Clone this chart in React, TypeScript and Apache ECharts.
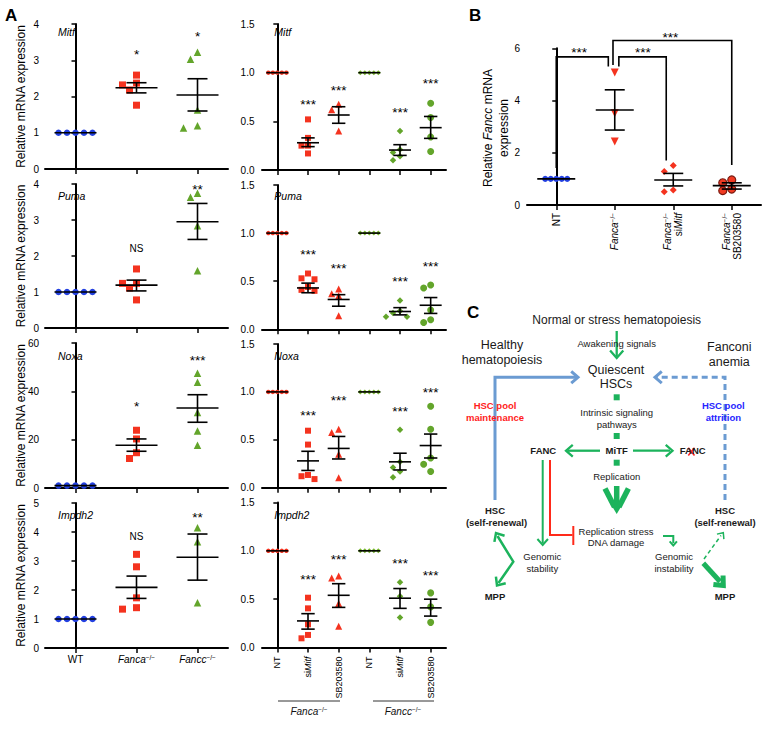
import React, { useEffect, useRef } from 'react';
import * as echarts from 'echarts';

const FONT = '"Liberation Sans", Arial, Helvetica, sans-serif';
const RED = '#f4331f';
const BLUE = '#2340e0';
const GREEN = '#63a52b';
const LGREEN = '#7ab82f';
const CG = '#1cb35c';
const CB = '#6b9bd2';

// ---------- Panel A, left column ----------
const leftCategories = ['WT', 'Fanca−/−', 'Fancc−/−'];

const mitfLeft = [[1, 1, 1, 1, 1], [2.59, 2.37, 2.32, 2.18, 1.76], [3.22, 3.03, 1.63, 1.19, 1.13]];
const mitfLeftMean = [1, 2.24, 2.04];
const mitfLeftSem = [[1, 1], [2.1, 2.38], [1.6, 2.49]];
const mitfLeftSig = ['', '*', '*'];
const mitfLeftSigY = [0, 3.23, 3.75];

const pumaLeft = [[1, 1, 1, 1, 1], [1.64, 1.24, 1.24, 1.11, 0.78], [3.74, 3.63, 2.84, 1.59]];
const pumaLeftMean = [1, 1.19, 2.95];
const pumaLeftSem = [[1, 1], [1.03, 1.33], [2.46, 3.46]];
const pumaLeftSig = ['', 'NS', '**'];
const pumaLeftSigY = [0, 2.22, 3.92];

const noxaLeft = [[1, 1, 1, 1, 1], [23.9, 20.3, 14.6, 12.2], [47.5, 43.8, 31.2, 23.6, 17.7]];
const noxaLeftMean = [1, 17.7, 33.1];
const noxaLeftSem = [[1, 1], [15.2, 20.3], [27.2, 38.6]];
const noxaLeftSig = ['', '*', '***'];
const noxaLeftSigY = [0, 35.1, 54.0];

const impdh2Left = [[1, 1, 1, 1, 1], [3.23, 2.8, 1.73, 1.39, 1.34], [4.15, 3.66, 1.56]];
const impdh2LeftMean = [1, 2.09, 3.13];
const impdh2LeftSem = [[1, 1], [1.71, 2.48], [2.34, 3.93]];
const impdh2LeftSig = ['', 'NS', '**'];
const impdh2LeftSigY = [0, 3.83, 4.62];

// ---------- Panel A, right column ----------
const rightCategories = ['NT', 'siMitf', 'SB203580', 'NT', 'siMitf', 'SB203580'];

const mitfRight = [[1, 1, 1, 1, 1], [0.52, 0.33, 0.25, 0.25, 0.17], [0.675, 0.62, 0.4], [1, 1, 1, 1, 1], [0.4, 0.21, 0.18, 0.14, 0.1], [0.685, 0.54, 0.34, 0.19]];
const mitfRightMean = [1, 0.28, 0.565, 1, 0.205, 0.435];
const mitfRightSem = [[1, 1], [0.24, 0.33], [0.48, 0.65], [1, 1], [0.15, 0.26], [0.325, 0.55]];
const mitfRightSig = ['', '***', '***', '', '***', '***'];
const mitfRightSigY = [0, 0.7, 0.85, 0, 0.617, 0.915];

const pumaRight = [[1, 1, 1, 1, 1], [0.58, 0.53, 0.52, 0.44, 0.41, 0.4], [0.42, 0.37, 0.35, 0.14], [1, 1, 1, 1, 1], [0.3, 0.19, 0.17, 0.13, 0.13], [0.46, 0.43, 0.2, 0.1, 0.07]];
const pumaRightMean = [1, 0.43, 0.31, 1, 0.185, 0.25];
const pumaRightSem = [[1, 1], [0.38, 0.48], [0.24, 0.36], [1, 1], [0.15, 0.225], [0.165, 0.33]];
const pumaRightSig = ['', '***', '***', '', '***', '***'];
const pumaRightSigY = [0, 0.807, 0.668, 0, 0.53, 0.68];

const noxaRight = [[1, 1, 1, 1, 1], [0.595, 0.45, 0.133, 0.12, 0.09], [0.61, 0.577, 0.35, 0.105], [1, 1, 1, 1, 1], [0.605, 0.27, 0.21, 0.17, 0.11], [0.85, 0.61, 0.31, 0.245, 0.17]];
const noxaRightMean = [1, 0.28, 0.41, 1, 0.27, 0.44];
const noxaRightSem = [[1, 1], [0.18, 0.38], [0.3, 0.535], [1, 1], [0.185, 0.36], [0.31, 0.56]];
const noxaRightSig = ['', '***', '***', '', '***', '***'];
const noxaRightSigY = [0, 0.78, 0.944, 0, 0.823, 1.025];

const impdh2Right = [[1, 1, 1, 1, 1], [0.515, 0.405, 0.24, 0.13, 0.095], [0.74, 0.72, 0.455, 0.22], [1, 1, 1, 1, 1], [0.675, 0.53, 0.31], [0.565, 0.42, 0.26]];
const impdh2RightMean = [1, 0.275, 0.54, 1, 0.51, 0.41];
const impdh2RightSem = [[1, 1], [0.19, 0.35], [0.415, 0.66], [1, 1], [0.405, 0.61], [0.325, 0.5]];
const impdh2RightSig = ['', '***', '***', '', '***', '***'];
const impdh2RightSigY = [0, 0.732, 0.939, 0, 0.905, 0.773];

// ---------- Panel B ----------
const bCategories = ['NT', 'Fanca−/−', 'Fanca−/−|siMitf', 'Fanca−/−|SB203580'];
const bValues = [[1, 1, 1, 1, 1], [5.07, 3.51, 2.43], [1.51, 1.28, 0.57, 0.51], [0.96, 0.85, 0.61, 0.55]];
const bMean = [1, 3.64, 0.96, 0.74];
const bSem = [[1, 1], [2.87, 4.41], [0.73, 1.21], [0.61, 0.85]];
const bBracketX1 = [0, 1.07, 0.97];
const bBracketY1 = [1.42, 5.3, 5.36];
const bBracketX2 = [0.89, 1.88, 3];
const bBracketY2 = [5.3, 1.7, 1.53];
const bBracketTop = [5.67, 5.67, 6.3];
const bStarX = [0.39, 1.48, 1.95];
const bStarY = [5.94, 5.94, 6.54];
const bStars = ['***', '***', '***'];

type Sty = { symbol: string; size: number | number[]; color: string; border?: string; rotate?: number; step: number; d: number };

const leftStyles: Sty[] = [
  { symbol: 'circle', size: 6.5, color: BLUE, step: 8.5, d: 8 },
  { symbol: 'rect', size: 7, color: RED, step: 7, d: 7.5 },
  { symbol: 'triangle', size: 7.5, color: GREEN, step: 7, d: 7.5 },
];
const rightStyles: Sty[] = [
  { symbol: 'circle', size: 4.5, color: RED, step: 4.5, d: 4 },
  { symbol: 'rect', size: 6, color: RED, step: 6.5, d: 6.5 },
  { symbol: 'triangle', size: 7, color: RED, step: 7, d: 6.5 },
  { symbol: 'diamond', size: 5, color: LGREEN, step: 4.5, d: 4 },
  { symbol: 'diamond', size: 6.5, color: GREEN, step: 7, d: 6.5 },
  { symbol: 'circle', size: 7, color: GREEN, step: 7, d: 6.5 },
];
const bStyles: Sty[] = [
  { symbol: 'circle', size: 6, color: BLUE, step: 5.5, d: 5 },
  { symbol: 'triangle', size: 8, color: RED, rotate: 180, step: 8, d: 7.5 },
  { symbol: 'diamond', size: 7, color: RED, step: 9, d: 7 },
  { symbol: 'circle', size: 8, color: '#f03a22', border: '#7a1a10', step: 9, d: 7.5 },
];

function swarm(vals: number[], cat: number, pxX: number, pxY: number, step: number, d: number) {
  const placed: number[][] = [];
  return vals.map((v) => {
    const y = v * pxY;
    let chosen = 0;
    for (let k = 0; k < 30; k++) {
      const dx = k === 0 ? 0 : (k % 2 === 1 ? -1 : 1) * Math.ceil(k / 2) * step;
      if (placed.every(([px, py]) => Math.hypot(px - dx, py - y) >= d)) { chosen = dx; break; }
    }
    placed.push([chosen, y]);
    return [cat + chosen / pxX, v];
  });
}

const richSup = {
  i: { fontStyle: 'italic', fontFamily: FONT, color: '#000' },
  s: { fontSize: 6.5, verticalAlign: 'top', fontFamily: FONT, color: '#000' },
};

function fmtCat(v: string) {
  return v.split('|').map((part) => {
    if (part.endsWith('−/−')) return '{i|' + part.replace('−/−', '') + '}{s|−/−}';
    if (part === 'siMitf') return 'si{i|Mitf}';
    return part;
  }).join('\n');
}

interface Spec {
  left: number; top: number; width: number; height: number; cats: string[]; max: number; interval: number; dec: number;
  values: number[][]; styles: Sty[]; mean: number[]; sem: number[][]; sig: string[]; sigY: number[];
  halfW: number; capW: number; xLabel: any; yMargin: number;
}

function buildOption() {
  const grid: any[] = [], xAxis: any[] = [], yAxis: any[] = [], series: any[] = [];

  const addPanel = (p: Spec) => {
    const gi = grid.length;
    grid.push({ left: p.left, top: p.top, width: p.width, height: p.height, outerBoundsMode: 'none', containLabel: false });
    xAxis.push({
      type: 'category', gridIndex: gi, data: p.cats,
      axisLine: { show: true, lineStyle: { color: '#000', width: 2 } },
      axisTick: { show: true, alignWithLabel: true, interval: 0, length: 5, lineStyle: { color: '#000', width: 1.5 } },
      axisLabel: p.xLabel ? { interval: 0, color: '#000', fontFamily: FONT, formatter: fmtCat, ...p.xLabel } : { show: false },
      splitLine: { show: false },
    });
    xAxis.push({ type: 'value', gridIndex: gi, min: -0.5, max: p.cats.length - 0.5, show: false, splitLine: { show: false } });
    yAxis.push({
      type: 'value', gridIndex: gi, min: 0, max: p.max, interval: p.interval,
      axisLine: { show: true, lineStyle: { color: '#000', width: 2 } },
      axisTick: { show: true, length: 4, lineStyle: { color: '#000', width: 1.5 } },
      splitLine: { show: false },
      axisLabel: { color: '#000', fontSize: 10, fontFamily: FONT, margin: p.yMargin, formatter: (v: number) => v.toFixed(p.dec) },
    });
    const pxX = p.width / p.cats.length;
    const pxY = p.height / p.max;
    p.values.forEach((vals, ci) => {
      const s = p.styles[ci];
      series.push({
        type: 'scatter', xAxisIndex: 2 * gi + 1, yAxisIndex: gi, silent: true, z: 3,
        symbol: s.symbol, symbolSize: s.size, symbolRotate: s.rotate || 0,
        itemStyle: { color: s.color, borderColor: s.border || s.color, borderWidth: s.border ? 1.2 : 0, opacity: 1 },
        data: swarm(vals, ci, pxX, pxY, s.step, s.d),
      });
    });
    series.push({
      type: 'custom', xAxisIndex: 2 * gi + 1, yAxisIndex: gi, silent: true, clip: false, z: 5,
      data: p.mean.map((m, i) => [i, m, p.sem[i][0], p.sem[i][1]]),
      renderItem: (_params: any, api: any) => {
        const x = api.value(0), m = api.value(1), lo = api.value(2), hi = api.value(3);
        const pm = api.coord([x, m]), pl = api.coord([x, lo]), ph = api.coord([x, hi]);
        const st = { stroke: '#000', lineWidth: 1.6 };
        const ch: any[] = [{ type: 'line', shape: { x1: pm[0] - p.halfW, y1: pm[1], x2: pm[0] + p.halfW, y2: pm[1] }, style: st }];
        if (hi - lo > 1e-9) {
          ch.push({ type: 'line', shape: { x1: pm[0], y1: pl[1], x2: pm[0], y2: ph[1] }, style: st });
          ch.push({ type: 'line', shape: { x1: pm[0] - p.capW, y1: pl[1], x2: pm[0] + p.capW, y2: pl[1] }, style: st });
          ch.push({ type: 'line', shape: { x1: pm[0] - p.capW, y1: ph[1], x2: pm[0] + p.capW, y2: ph[1] }, style: st });
        }
        return { type: 'group', children: ch };
      },
    });
    const sigData = p.sig.map((t, i) => (t ? [i, p.sigY[i], i] : null)).filter(Boolean);
    series.push({
      type: 'custom', xAxisIndex: 2 * gi + 1, yAxisIndex: gi, silent: true, clip: false, z: 6,
      data: sigData,
      renderItem: (_params: any, api: any) => {
        const t = p.sig[api.value(2)];
        const pt = api.coord([api.value(0), api.value(1)]);
        const star = t.indexOf('*') >= 0;
        return {
          type: 'text', x: pt[0], y: pt[1] + (star ? 3 : 0),
          style: { text: t, fill: '#000', fontSize: star ? 13.5 : 10, fontFamily: FONT, align: 'center', verticalAlign: 'middle' },
        };
      },
    });
    return gi;
  };

  const leftRows = [
    { top: 24, h: 145, v: mitfLeft, m: mitfLeftMean, s: mitfLeftSem, g: mitfLeftSig, y: mitfLeftSigY, max: 4, int: 1 },
    { top: 184, h: 144, v: pumaLeft, m: pumaLeftMean, s: pumaLeftSem, g: pumaLeftSig, y: pumaLeftSigY, max: 4, int: 1 },
    { top: 343, h: 145, v: noxaLeft, m: noxaLeftMean, s: noxaLeftSem, g: noxaLeftSig, y: noxaLeftSigY, max: 60, int: 20 },
    { top: 503, h: 145, v: impdh2Left, m: impdh2LeftMean, s: impdh2LeftSem, g: impdh2LeftSig, y: impdh2LeftSigY, max: 5, int: 1 },
  ];
  leftRows.forEach((r, k) => addPanel({
    left: 45, top: r.top, width: 183, height: r.h, cats: leftCategories, max: r.max, interval: r.int, dec: 0,
    values: r.v, styles: leftStyles, mean: r.m, sem: r.s, sig: r.g, sigY: r.y, halfW: 21, capW: 10,
    xLabel: k === 3 ? { fontSize: 10, margin: 6, rich: { i: { ...richSup.i, fontSize: 10 }, s: richSup.s } } : null, yMargin: 6,
  }));

  const rightRows = [
    { top: 24, h: 146, v: mitfRight, m: mitfRightMean, s: mitfRightSem, g: mitfRightSig, y: mitfRightSigY },
    { top: 185, h: 144.3, v: pumaRight, m: pumaRightMean, s: pumaRightSem, g: pumaRightSig, y: pumaRightSigY },
    { top: 344, h: 143.7, v: noxaRight, m: noxaRightMean, s: noxaRightSem, g: noxaRightSig, y: noxaRightSigY },
    { top: 502.5, h: 145, v: impdh2Right, m: impdh2RightMean, s: impdh2RightSem, g: impdh2RightSig, y: impdh2RightSigY },
  ];
  rightRows.forEach((r, k) => addPanel({
    left: 262, top: r.top, width: 184, height: r.h, cats: rightCategories, max: 1.5, interval: 0.5, dec: 1,
    values: r.v, styles: rightStyles, mean: r.m, sem: r.s, sig: r.g, sigY: r.y, halfW: 11, capW: 6.7,
    xLabel: k === 3 ? { fontSize: 9, margin: 9, rotate: 90, rich: { i: { ...richSup.i, fontSize: 9 }, s: richSup.s } } : null, yMargin: 7.5,
  }));

  const bi = addPanel({
    left: 527, top: 48.3, width: 234, height: 156.7, cats: bCategories, max: 6, interval: 2, dec: 0,
    values: bValues, styles: bStyles, mean: bMean, sem: bSem, sig: ['', '', '', ''], sigY: [0, 0, 0, 0], halfW: 19, capW: 10,
    xLabel: { fontSize: 10, margin: 8, rotate: 90, lineHeight: 11, rich: { i: { ...richSup.i, fontSize: 10, lineHeight: 11 }, s: { ...richSup.s, lineHeight: 11 } } }, yMargin: 7,
  });
  series.push({
    type: 'custom', xAxisIndex: 2 * bi + 1, yAxisIndex: bi, silent: true, clip: false, z: 6,
    data: bBracketX1.map((x1, i) => [x1, bBracketY1[i], bBracketX2[i], bBracketY2[i], bBracketTop[i]]),
    renderItem: (_p: any, api: any) => {
      const x1 = api.value(0), y1 = api.value(1), x2 = api.value(2), y2 = api.value(3), t = api.value(4);
      return {
        type: 'polyline',
        shape: { points: [api.coord([x1, y1]), api.coord([x1, t]), api.coord([x2, t]), api.coord([x2, y2])] },
        style: { stroke: '#000', lineWidth: 1.6, fill: null },
      };
    },
  });
  series.push({
    type: 'custom', xAxisIndex: 2 * bi + 1, yAxisIndex: bi, silent: true, clip: false, z: 6,
    data: bStarX.map((x, i) => [x, bStarY[i], i]),
    renderItem: (_p: any, api: any) => {
      const pt = api.coord([api.value(0), api.value(1)]);
      return { type: 'text', x: pt[0], y: pt[1] + 3, style: { text: bStars[api.value(2)], fill: '#000', fontSize: 13.5, fontFamily: FONT, align: 'center', verticalAlign: 'middle' } };
    },
  });

  // ---------- graphic: titles, labels and panel C ----------
  const G: any[] = [];
  const T = (x: number, y: number, t: string, o: any = {}) => G.push({
    type: 'text', x, y, rotation: o.rot || 0, silent: true, z: 10,
    style: {
      text: t, fill: o.fill || '#111', fontSize: o.size || 9.5, fontWeight: o.bold ? 'bold' : 'normal',
      fontStyle: o.italic ? 'italic' : 'normal', fontFamily: FONT, align: o.align || 'center', verticalAlign: 'middle',
      rich: o.rich, lineHeight: o.lh,
    },
  });
  const seg = (x1: number, y1: number, x2: number, y2: number, c: string, w: number, dash?: number[]) =>
    G.push({ type: 'line', silent: true, z: 9, shape: { x1, y1, x2, y2 }, style: { stroke: c, lineWidth: w, lineDash: dash } });
  const pl = (pts: number[][], c: string, w: number, dash?: number[]) =>
    G.push({ type: 'polyline', silent: true, z: 9, shape: { points: pts }, style: { stroke: c, lineWidth: w, fill: null, lineDash: dash, lineJoin: 'miter' } });
  const head = (x: number, y: number, dx: number, dy: number, len: number, c: string, w: number, spread = 0.72) => {
    const a = Math.atan2(dy, dx);
    pl([[x - len * Math.cos(a - spread), y - len * Math.sin(a - spread)], [x, y], [x - len * Math.cos(a + spread), y - len * Math.sin(a + spread)]], c, w);
  };

  // panel letters
  T(5, 15, 'A', { size: 17, bold: true, align: 'left', fill: '#000' });
  T(469, 15, 'B', { size: 17, bold: true, align: 'left', fill: '#000' });
  T(467, 312, 'C', { size: 17, bold: true, align: 'left', fill: '#000' });

  // y titles
  [96.5, 256, 415.5, 575.5].forEach((cy) => T(20.5, cy, 'Relative mRNA expression', { size: 12, rot: Math.PI / 2, fill: '#000' }));
  T(496, 128, 'Relative {i|Fancc} mRNA\nexpression', {
    size: 12, rot: Math.PI / 2, fill: '#000', lh: 16,
    rich: { i: { fontStyle: 'italic', fontSize: 12, fontFamily: FONT, color: '#000', lineHeight: 16 } },
  });

  // gene labels
  const genes = ['Mitf', 'Puma', 'Noxa', 'Impdh2'];
  const geneY = [32.3, 195.7, 355.7, 514.8];
  genes.forEach((g, k) => {
    T(58, geneY[k], g, { size: 10.5, italic: true, align: 'left', fill: '#000' });
    T(274.3, geneY[k], g, { size: 10.5, italic: true, align: 'left', fill: '#000' });
  });

  // group labels under right column
  seg(278, 701, 340, 701, '#333', 1);
  seg(373, 701, 434, 701, '#333', 1);
  const supRich = { i: { fontStyle: 'italic', fontSize: 10, fontFamily: FONT, color: '#000' }, s: { fontSize: 6.5, verticalAlign: 'top', fontFamily: FONT, color: '#000' } };
  T(309, 711, '{i|Fanca}{s|−/−}', { size: 10, rich: supRich });
  T(403, 711, '{i|Fancc}{s|−/−}', { size: 10, rich: supRich });

  // ---- Panel C ----
  const TX = '#1a1a1a';
  T(616.7, 320, 'Normal or stress hematopoiesis', { size: 12, fill: TX });
  seg(616.7, 331, 616.7, 356, CG, 2.3);
  head(616.7, 358, 0, 1, 10, CG, 2.3);
  T(616.7, 343.3, 'Awakening signals', { size: 9.5, fill: TX });
  T(502, 345.3, 'Healthy', { size: 12.5, fill: TX });
  T(502, 360, 'hematopoiesis', { size: 12.5, fill: TX });
  T(729.3, 347.3, 'Fanconi', { size: 12.5, fill: TX });
  T(729.3, 361.7, 'anemia', { size: 12.5, fill: TX });
  T(616, 370, 'Quiescent', { size: 12.5, fill: TX });
  T(616, 384.3, 'HSCs', { size: 12.5, fill: TX });

  pl([[495, 500], [495, 377.3], [576, 377.3]], CB, 3);
  head(578, 377.3, 1, 0, 9, CB, 3);
  pl([[725, 500], [725, 377.3], [657, 377.3]], CB, 3, [6, 4]);
  head(655, 377.3, -1, 0, 9, CB, 3);

  T(495, 405.7, 'HSC pool', { size: 9.5, bold: true, fill: '#ff1c1c' });
  T(495, 417.7, 'maintenance', { size: 9.5, bold: true, fill: '#ff1c1c' });
  T(723.3, 405.7, 'HSC pool', { size: 9.5, bold: true, fill: '#2626ff' });
  T(723.3, 417.7, 'attrition', { size: 9.5, bold: true, fill: '#2626ff' });

  [397.3, 436, 462.7].forEach((cy) => G.push({ type: 'rect', silent: true, z: 9, shape: { x: 613.7, y: cy - 3, width: 6, height: 6 }, style: { fill: CG } }));
  T(616.7, 412.3, 'Intrinsic signaling', { fill: TX });
  T(616.7, 424, 'pathways', { fill: TX });

  T(543.3, 450.7, 'FANC', { bold: true, fill: TX });
  T(616.7, 450.7, 'MiTF', { bold: true, fill: TX });
  T(692.7, 450.7, 'FANC', { bold: true, fill: TX });
  seg(688.3, 447.8, 694.5, 455.5, '#ff2020', 1.6);
  seg(694.5, 447.8, 688.3, 455.5, '#ff2020', 1.6);

  seg(600, 450.7, 568, 450.7, CG, 2.3);
  head(566, 450.7, -1, 0, 9, CG, 2.3);
  seg(633, 450.7, 670, 450.7, CG, 2.3);
  head(672.5, 450.7, 1, 0, 9, CG, 2.3);
  T(616.7, 476.7, 'Replication', { fill: TX });

  seg(616.7, 486, 616.7, 507, CG, 5.5);
  seg(605, 488.5, 614.5, 507, CG, 5.5);
  seg(628.4, 488.5, 618.9, 507, CG, 5.5);
  G.push({ type: 'polygon', silent: true, z: 9, shape: { points: [[609.5, 502], [623.9, 502], [616.7, 514]] }, style: { fill: CG } });

  seg(542.7, 460, 542.7, 543, CG, 2);
  head(542.7, 545, 0, 1, 8, CG, 2);
  pl([[550, 460], [550, 535], [572.5, 535]], '#ff2a1a', 2);
  seg(573.3, 526, 573.3, 545, '#ff2a1a', 2);

  T(616, 531, 'Replication stress', { fill: TX });
  T(616, 542.7, 'DNA damage', { fill: TX });
  pl([[663, 536], [673.3, 536], [673.3, 543]], CG, 2);
  head(673.3, 545.5, 0, 1, 5.5, CG, 2);

  T(542.3, 556.7, 'Genomic', { fill: TX });
  T(542.3, 568.3, 'stability', { fill: TX });
  T(674, 556.7, 'Genomic', { fill: TX });
  T(674, 568.3, 'instability', { fill: TX });

  T(495, 510.7, 'HSC', { bold: true, fill: TX });
  T(496.5, 522.7, '(self-renewal)', { bold: true, fill: TX });
  T(725, 510.7, 'HSC', { bold: true, fill: TX });
  T(725, 522.7, '(self-renewal)', { bold: true, fill: TX });

  pl([[497.5, 536], [513.3, 561.7], [498.5, 583]], CG, 2.5);
  head(496, 533, -17.3, -28.7, 9, CG, 2.5);
  head(497, 585.5, -16.3, 23.8, 9, CG, 2.5);

  seg(704, 559, 721, 535.5, CG, 1.5, [4, 3]);
  head(723.3, 532.7, 20, -27.3, 6.5, CG, 1.5);
  seg(703.3, 563.3, 720, 581.5, CG, 5);
  head(723.3, 585.5, 20, 21.7, 10, CG, 5);

  T(495, 596.7, 'MPP', { bold: true, fill: TX });
  T(725, 596.7, 'MPP', { bold: true, fill: TX });

  return {
    animation: false,
    backgroundColor: '#ffffff',
    textStyle: { fontFamily: FONT },
    grid, xAxis, yAxis, series,
    graphic: { elements: G },
  };
}

export default function App() {
  const ref = useRef<HTMLDivElement>(null);
  useEffect(() => {
    if (!ref.current) return;
    const chart = echarts.init(ref.current, undefined, { renderer: 'svg' });
    chart.setOption(buildOption() as any);
    return () => chart.dispose();
  }, []);
  return <div ref={ref} style={{ position: 'fixed', left: 0, top: 0, width: 764, height: 729, background: '#fff' }} />;
}
